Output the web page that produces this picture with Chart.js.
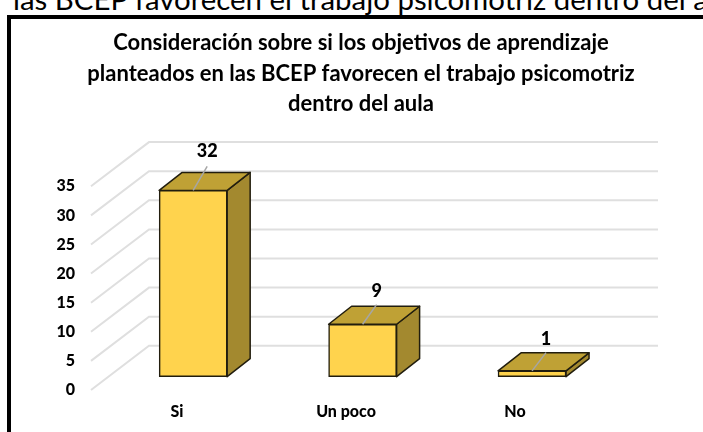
<!DOCTYPE html>
<html>
<head>
<meta charset="utf-8">
<script src="https://cdn.jsdelivr.net/npm/chart.js@4"></script>
<style>
  html, body { margin: 0; padding: 0; background: #fff; width: 703px; height: 432px; overflow: hidden; }
  #caption { position: absolute; left: 13px; top: -19px; white-space: nowrap; font: 29.4px Lato, sans-serif; color: #000; }
  #frame { position: absolute; left: 7px; top: 15px; width: 800px; height: 600px; border: 4px solid #000; box-sizing: border-box; }
  #myChart { position: absolute; left: 0; top: 0; }
</style>
</head>
<body>
<div id="caption">las BCEP favorecen el trabajo psicomotriz dentro del aula</div>
<div id="frame"></div>
<canvas id="myChart" width="703" height="432"></canvas>
<script>
// Datos
const categorias = ["Si", "Un poco", "No"];
const valores = [32, 9, 1];
const marcasY = [0, 5, 10, 15, 20, 25, 30, 35];
const titulo = [
    "Consideración sobre si los objetivos de aprendizaje",
    "planteados en las BCEP favorecen el trabajo psicomotriz",
    "dentro del aula"
];

// profundidad del efecto 3D
const muroX = 58, finGrid = 658, barraDX = 23, barraDY = -18;

const cubo3d = {
    id: "cubo3d",
    // paredes de fondo: diagonal desde la marca frontal hasta la linea del fondo
    beforeDatasetsDraw(chart) {
        const c = chart.ctx, s = chart.scales, a = chart.chartArea;
        c.save();
        c.strokeStyle = "#dfdfdf";
        c.lineWidth = 2;
        marcasY.forEach(v => {
            c.beginPath();
            c.moveTo(a.left, s.yMarcas.getPixelForValue(v));
            c.lineTo(a.left + muroX, s.yFondo.getPixelForValue(v));
            c.lineTo(finGrid, s.yFondo.getPixelForValue(v));
            c.stroke();
        });
        // caras lateral y superior
        const cara = (pts, color) => {
            c.beginPath();
            pts.forEach((p, i) => i ? c.lineTo(p[0], p[1]) : c.moveTo(p[0], p[1]));
            c.closePath();
            c.fillStyle = color;
            c.fill();
            c.stroke();
        };
        c.strokeStyle = "#211d0e";
        c.lineWidth = 1.5;
        c.lineJoin = "round";
        chart.getDatasetMeta(0).data.forEach(b => {
            const l = b.x - b.width / 2, r = b.x + b.width / 2;
            cara([[r, b.y], [r + barraDX, b.y + barraDY], [r + barraDX, b.base + barraDY], [r, b.base]], "#a3892f");
            cara([[l, b.y], [l + barraDX, b.y + barraDY], [r + barraDX, b.y + barraDY], [r, b.y]], "#bfa135");
        });
        c.restore();
    },
    // lineas guia y etiquetas de valor
    afterDatasetsDraw(chart) {
        const c = chart.ctx;
        c.save();
        chart.getDatasetMeta(0).data.forEach((b, i) => {
            const v = valores[i];
            const x2 = b.x + 14, y2 = b.y - 18 - v * 0.19;
            c.strokeStyle = "#a6a6a6";
            c.lineWidth = 1.5;
            c.beginPath();
            c.moveTo(b.x, b.y);
            c.lineTo(x2, y2);
            c.stroke();
            c.fillStyle = "#000";
            c.font = "900 18px Lato";
            c.textAlign = "center";
            c.textBaseline = "middle";
            c.fillText(String(v), x2, y2 - 13 - v * 0.06);
        });
        c.restore();
    }
};

new Chart("myChart", {
    type: "bar",
    data: {
        datasets: [{
            data: valores.map((v, i) => ({ x: i, y: v })),
            xAxisID: "x",
            yAxisID: "y",
            backgroundColor: "#ffd34d",
            borderColor: "#211d0e",
            borderWidth: 1.5,
            borderSkipped: false,
            barThickness: 68
        }]
    },
    plugins: [cubo3d],
    options: {
        responsive: false,
        animation: false,
        layout: { padding: { left: 19, right: 0, top: 22, bottom: 0 } },
        plugins: {
            legend: { display: false },
            tooltip: { enabled: false },
            title: {
                display: true,
                text: titulo,
                color: "#000",
                font: { family: "Lato", size: 22, weight: "bold", lineHeight: 1.38 },
                padding: { top: 6, bottom: 23 }
            }
        },
        scales: {
            // posicion de las barras
            x: { type: "linear", min: -0.603, max: 3.009, offset: false, bounds: "data", display: false },
            // etiquetas de categoria (un poco a la izquierda de las barras)
            xEtiquetas: {
                type: "linear", axis: "x", position: "bottom", min: -0.509, max: 3.112, offset: false, bounds: "data",
                grid: { display: false }, border: { display: false },
                afterBuildTicks: s => { s.ticks = categorias.map((_, i) => ({ value: i })); },
                afterFit: s => { s.height = 42; },
                ticks: {
                    autoSkip: false, maxRotation: 0, padding: 4, color: "#000",
                    font: { family: "Lato", size: 16, weight: "900" },
                    callback: v => categorias[v]
                }
            },
            y: { min: -2.29, max: 40.3, display: false },
            yFondo: { axis: "y", min: -7.59, max: 35, display: false },
            yMarcas: {
                axis: "y", position: "left", min: 0, max: 42.59, bounds: "data",
                grid: { display: false }, border: { display: false },
                afterBuildTicks: s => { s.ticks = marcasY.map(v => ({ value: v })); },
                afterFit: s => { s.width = 72; },
                ticks: { padding: 8, color: "#000", font: { family: "Lato", size: 16, weight: "900" } }
            }
        }
    }
});
</script>
</body>
</html>
